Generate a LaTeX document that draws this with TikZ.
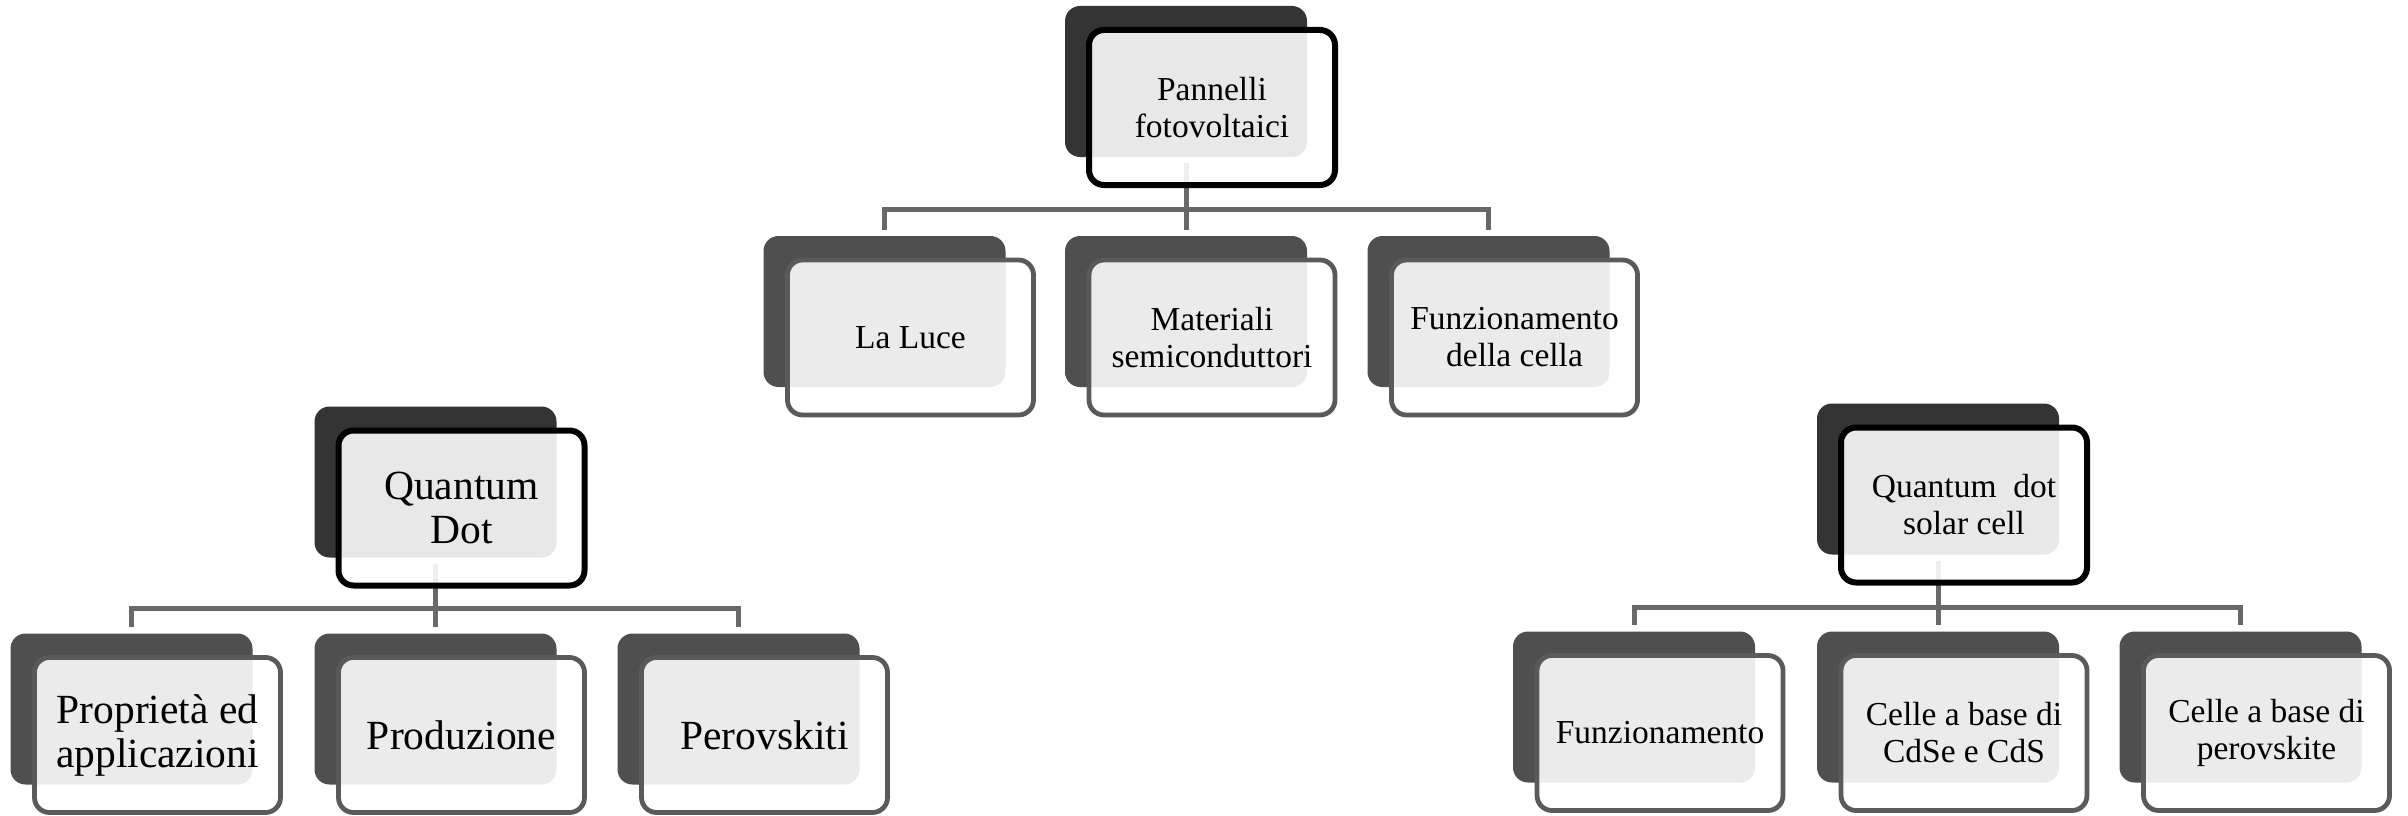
\documentclass[tikz,border=0pt]{standalone}
\usepackage{fontspec}
\setmainfont{Liberation Serif}
\pgfdeclarelayer{bg}
\pgfsetlayers{bg,main}
\definecolor{backP}{HTML}{343434}
\definecolor{backC}{HTML}{4F4F4F}
\definecolor{lineC}{HTML}{5A5A5A}
\definecolor{connC}{HTML}{686868}
\begin{document}
\begin{tikzpicture}[x=1pt,y=-1pt,
  backbox/.style={rounded corners=15pt, minimum width=242pt, minimum height=151pt, inner sep=0pt, fill=#1},
  frontbox/.style={rounded corners=15pt, minimum width=246pt, minimum height=155pt, inner sep=0pt,
    fill=white, fill opacity=0.89, text opacity=1, align=center},
  frontP/.style={frontbox, draw=black, line width=6pt},
  frontC/.style={frontbox, draw=lineC, line width=4.8pt},
  small/.style={font=\fontsize{33.5}{37}\selectfont},
  large/.style={font=\fontsize{41.5}{44}\selectfont},
  conn/.style={draw=connC, line width=5pt, line join=miter}
]
\useasboundingbox (0,0) rectangle (2408,816);

% ---------- top group ----------
\node[backbox=backP] (pv) at (1186,81.5) {};
\node[frontP, small] (pvf) at ([shift={(26pt,-26pt)}]pv.center) {Pannelli\\fotovoltaici};
\node[backbox=backC] (luce) at (884.5,311.5) {};
\node[frontC, small] (lucef) at ([shift={(26pt,-26pt)}]luce.center) {La Luce};
\node[backbox=backC] (mat) at (1186,311.5) {};
\node[frontC, small] (matf) at ([shift={(26pt,-26pt)}]mat.center) {Materiali\\semiconduttori};
\node[backbox=backC] (fun) at (1488.5,311.5) {};
\node[frontC, small] (funf) at ([shift={(26pt,-26pt)}]fun.center) {Funzionamento\\della cella};
\coordinate (pvbar) at (1186,209);

% ---------- left group ----------
\node[backbox=backP] (qd) at (435.5,482) {};
\node[frontP, large] (qdf) at ([shift={(26pt,-26pt)}]qd.center) {Quantum\\Dot};
\node[backbox=backC] (prop) at (131.5,709) {};
\node[frontC, large] (propf) at ([shift={(26pt,-26pt)}]prop.center) {Proprietà ed\\applicazioni};
\node[backbox=backC] (prod) at (435.5,709) {};
\node[frontC, large] (prodf) at ([shift={(26pt,-26pt)}]prod.center) {Produzione};
\node[backbox=backC] (perov) at (738.5,709) {};
\node[frontC, large] (perovf) at ([shift={(26pt,-26pt)}]perov.center) {Perovskiti};
\coordinate (qdbar) at (435.5,608);

% ---------- right group ----------
\node[backbox=backP] (qs) at (1938,479) {};
\node[frontP, small] (qsf) at ([shift={(26pt,-26pt)}]qs.center) {Quantum\ \ dot\\solar cell};
\node[backbox=backC] (fz) at (1634,707) {};
\node[frontC, small] (fzf) at ([shift={(26pt,-26pt)}]fz.center) {Funzionamento};
\node[backbox=backC] (cd) at (1938,707) {};
\node[frontC, small] (cdf) at ([shift={(26pt,-26pt)}]cd.center) {Celle a base di\\CdSe e CdS};
\node[backbox=backC] (pk) at (2240.5,707) {};
\node[frontC, small] (pkf) at ([shift={(26pt,-26pt)}]pk.center) {Celle a base di\\perovskite};
\coordinate (qsbar) at (1938,607);

\begin{pgfonlayer}{bg}
  \fill[white] (0,0) rectangle (2408,816);
  % top
  \draw[conn] ([yshift=-6pt]pv.south) -- ([yshift=6pt]mat.north);
  \draw[conn] ([yshift=6pt]luce.north) |- (pvbar) -| ([yshift=6pt]fun.north);
  % left
  \draw[conn] ([yshift=-6pt]qd.south) -- ([yshift=6pt]prod.north);
  \draw[conn] ([yshift=6pt]prop.north) |- (qdbar) -| ([yshift=6pt]perov.north);
  % right
  \draw[conn] ([yshift=-6pt]qs.south) -- ([yshift=6pt]cd.north);
  \draw[conn] ([yshift=6pt]fz.north) |- (qsbar) -| ([yshift=6pt]pk.north);
\end{pgfonlayer}
\end{tikzpicture}
\end{document}
